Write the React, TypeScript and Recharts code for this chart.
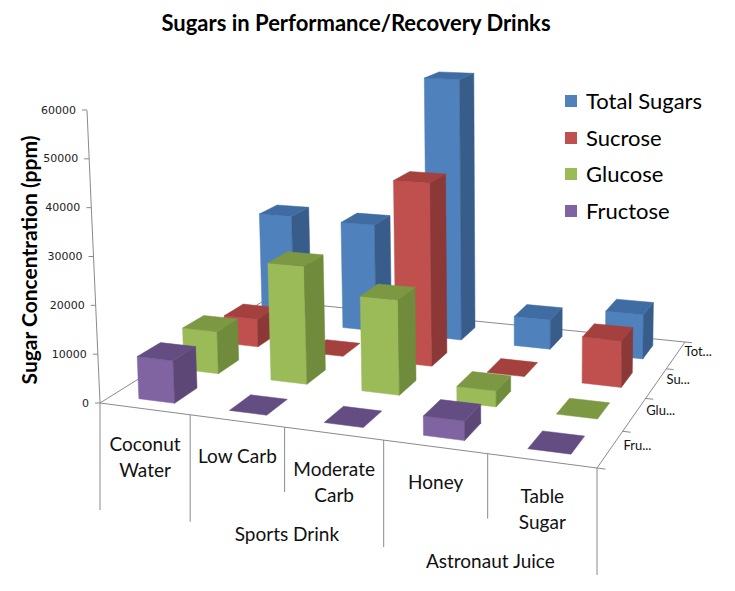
import React from 'react';
import { BarChart, Bar, XAxis, YAxis, Legend } from 'recharts';

// categories along the front edge, with the wrapped label lines and the outer group level
const categories = ['Coconut Water', 'Low Carb', 'Moderate Carb', 'Honey', 'Table Sugar'];
const categoryLines = [['Coconut', 'Water'], ['Low Carb'], ['Moderate', 'Carb'], ['Honey'], ['Table', 'Sugar']];
const groupLabels = ['', 'Sports Drink', 'Sports Drink', 'Astronaut Juice', 'Astronaut Juice'];

// ppm
const totalSugars = [25000, 24500, 59000, 6500, 9600];
const sucrose = [6200, 0, 39600, 0, 9600];
const glucose = [9000, 24800, 19600, 3200, 0];
const fructose = [8700, 0, 0, 3700, 0];

const yTicks = [0, 10000, 20000, 30000, 40000, 50000, 60000];
const depthLabels = ['Tot...', 'Su...', 'Glu...', 'Fru...'];

const series = [
  { key: 'total', name: 'Total Sugars', values: totalSugars, front: '#4F81BD', top: '#3F6CA2', side: '#385D8A' },
  { key: 'sucrose', name: 'Sucrose', values: sucrose, front: '#C0504D', top: '#A4413E', side: '#8C3836' },
  { key: 'glucose', name: 'Glucose', values: glucose, front: '#9BBB59', top: '#7C9843', side: '#6F8B3B' },
  { key: 'fructose', name: 'Fructose', values: fructose, front: '#8064A2', top: '#644D83', side: '#5C4776' },
];

const data = categories.map((name, i) => {
  const row: Record<string, string | number> = { name };
  series.forEach((s) => (row[s.key] = s.values[i]));
  return row;
});

// layout of the fake 3d floor
const WIDTH = 735;
const HEIGHT = 591;
const PLOT = { x: 100, y: 110, w: 497, h: 293 };
const FL: [number, number] = [100, 403];
const FR: [number, number] = [597, 468];
const BR: [number, number] = [685, 342];
const BL: [number, number] = [265, 300];
const VANISH: [number, number] = [520, 9870];
const HALF_W = 0.04;
const HALF_D = 0.0625;
const LINE = '#8a8a8a';
const FONT = 'Lato, "Open Sans", sans-serif';

function makeHomography(p0: number[], p1: number[], p2: number[], p3: number[]) {
  const [x0, y0] = p0, [x1, y1] = p1, [x2, y2] = p2, [x3, y3] = p3;
  const dx1 = x1 - x2, dx2 = x3 - x2, dx3 = x0 - x1 + x2 - x3;
  const dy1 = y1 - y2, dy2 = y3 - y2, dy3 = y0 - y1 + y2 - y3;
  const den = dx1 * dy2 - dx2 * dy1;
  const g = (dx3 * dy2 - dx2 * dy3) / den;
  const h = (dx1 * dy3 - dx3 * dy1) / den;
  const a = x1 - x0 + g * x1, b = x3 - x0 + h * x3;
  const d = y1 - y0 + g * y1, e = y3 - y0 + h * y3;
  return (u: number, v: number) => {
    const w = g * u + h * v + 1;
    return { x: (a * u + b * v + x0) / w, y: (d * u + e * v + y0) / w, w };
  };
}

const proj = makeHomography(FL, FR, BR, BL);

// raise a floor point by px (measured at the front-left corner scale)
function lift(p: { x: number; y: number; w: number }, px: number) {
  const dx = p.x - VANISH[0];
  const dy = p.y - VANISH[1];
  const len = Math.hypot(dx, dy);
  const k = px / p.w / len;
  return { x: p.x + dx * k, y: p.y + dy * k };
}

const pts = (list: { x: number; y: number }[]) => list.map((p) => `${p.x.toFixed(1)},${p.y.toFixed(1)}`).join(' ');

function Box3D(props: any) {
  const { x, width, height, depth, colors } = props;
  if (x == null || width == null) return null;
  const uc = (x + width / 2 - PLOT.x) / PLOT.w;
  const h = Math.max(0, height || 0);
  const u0 = uc - HALF_W, u1 = uc + HALF_W;
  const v0 = depth - HALF_D, v1 = depth + HALF_D;
  const f00 = proj(u0, v0), f10 = proj(u1, v0), f11 = proj(u1, v1), f01 = proj(u0, v1);
  const t00 = lift(f00, h), t10 = lift(f10, h), t11 = lift(f11, h), t01 = lift(f01, h);
  return (
    <g>
      {h > 0 && <polygon points={pts([f00, f10, t10, t00])} fill={colors.front} stroke={colors.front} strokeWidth={0.5} />}
      {h > 0 && <polygon points={pts([f10, f11, t11, t10])} fill={colors.side} stroke={colors.side} strokeWidth={0.5} />}
      <polygon points={pts([t00, t10, t11, t01])} fill={colors.top} stroke={colors.top} strokeWidth={0.5} />
    </g>
  );
}

function YTick(props: any) {
  const { y, payload } = props;
  const base = proj(0, 0);
  const p = lift(base, base.y - y);
  return (
    <g>
      <line x1={p.x - 5} y1={y} x2={p.x} y2={y} stroke={LINE} />
      <text x={p.x - 11} y={y} textAnchor="end" dominantBaseline="central" fontSize={11} fontFamily="'DejaVu Sans', sans-serif" fill="#222">
        {payload.value}
      </text>
    </g>
  );
}

function Frame() {
  const fl = proj(0, 0), fr = proj(1, 0), br = proj(1, 1), bl = proj(0, 1);
  const axisTop = lift(fl, PLOT.h);
  const bounds = categories.map((_, i) => i).concat(categories.length);
  return (
    <g>
      <line x1={bl.x} y1={bl.y} x2={br.x} y2={br.y} stroke={LINE} />
      <line x1={fl.x} y1={fl.y} x2={bl.x} y2={bl.y} stroke={LINE} />
      <line x1={fl.x} y1={fl.y} x2={fr.x} y2={fr.y} stroke={LINE} />
      <line x1={fr.x} y1={fr.y} x2={br.x} y2={br.y} stroke={LINE} />
      <line x1={fl.x} y1={fl.y} x2={axisTop.x} y2={axisTop.y} stroke={LINE} />
      {bounds.map((i) => {
        const p = proj(i / categories.length, 0);
        const outer = i === 0 || i === categories.length || groupLabels[i - 1] !== groupLabels[i];
        return <line key={`b${i}`} x1={p.x} y1={p.y} x2={p.x} y2={p.y + (outer ? 107 : 65)} stroke={LINE} />;
      })}
      {categoryLines.map((lines, i) => {
        const a = proj(i / categories.length, 0);
        const b = proj((i + 1) / categories.length, 0);
        const cx = (a.x + b.x) / 2;
        const cy = (a.y + b.y) / 2 + 34.5;
        return (
          <text key={`c${i}`} x={cx} y={cy} textAnchor="middle" fontSize={19} fontFamily={FONT} fill="#111">
            {lines.map((l, k) => (
              <tspan key={k} x={cx} y={cy + k * 26.5} dominantBaseline="central">
                {l}
              </tspan>
            ))}
          </text>
        );
      })}
      {groupLabels.map((g, i) => {
        if (!g || groupLabels[i - 1] === g) return null;
        let j = i;
        while (groupLabels[j + 1] === g) j++;
        const a = proj(i / categories.length, 0);
        const b = proj((j + 1) / categories.length, 0);
        return (
          <text key={`g${i}`} x={(a.x + b.x) / 2} y={(a.y + b.y) / 2 + 106} textAnchor="middle" dominantBaseline="central" fontSize={19} fontFamily={FONT} fill="#111">
            {g}
          </text>
        );
      })}
      {[0, 1, 2, 3, 4].map((j) => {
        const p = proj(1, j / 4);
        const q = proj(1.015, j / 4);
        return <line key={`d${j}`} x1={p.x} y1={p.y} x2={q.x} y2={q.y} stroke={LINE} />;
      })}
      {depthLabels.map((l, j) => {
        const v = 1 - (j + 0.5) / 4;
        const p = proj(1, v);
        return (
          <text key={`dl${j}`} x={p.x + 14 - 6 * v} y={p.y - 4} dominantBaseline="central" fontSize={13} fontFamily={FONT} fill="#111">
            {l}
          </text>
        );
      })}
      <text x={356} y={22} textAnchor="middle" dominantBaseline="central" fontSize={22} fontWeight="bold" fontFamily={FONT} fill="#000">
        Sugars in Performance/Recovery Drinks
      </text>
      <text x={28} y={260} transform="rotate(-90 28 260)" textAnchor="middle" dominantBaseline="central" fontSize={21} fontWeight="bold" fontFamily={FONT} fill="#000">
        Sugar Concentration (ppm)
      </text>
    </g>
  );
}

function LegendContent({ payload }: any) {
  const order = series.map((s) => s.name);
  const items = [...(payload || [])].sort((a: any, b: any) => order.indexOf(a.value) - order.indexOf(b.value));
  return (
    <div style={{ fontFamily: FONT, fontSize: 22, color: '#000', lineHeight: 1 }}>
      {items.map((it: any) => (
        <div key={it.value} style={{ display: 'flex', alignItems: 'center', height: 36.7 }}>
          <span style={{ display: 'inline-block', width: 12, height: 12, background: it.color, marginRight: 9 }} />
          <span>{it.value}</span>
        </div>
      ))}
    </div>
  );
}

export default function App() {
  return (
    <div style={{ position: 'absolute', left: 0, top: 0, width: WIDTH, height: HEIGHT, background: '#fff' }}>
      <BarChart
        width={WIDTH}
        height={HEIGHT}
        data={data}
        margin={{ top: PLOT.y, right: WIDTH - PLOT.x - PLOT.w, bottom: HEIGHT - PLOT.y - PLOT.h, left: PLOT.x - 60 }}
      >
        <Frame />
        {series.map((s) => (
          <XAxis key={s.key} xAxisId={s.key} dataKey="name" hide />
        ))}
        <YAxis
          width={60}
          domain={[0, 60000]}
          ticks={yTicks}
          axisLine={false}
          tickLine={false}
          tick={<YTick />}
        />
        <Legend
          layout="vertical"
          align="center"
          verticalAlign="middle"
          content={<LegendContent />}
          wrapperStyle={{ left: 565, top: 82.6, width: 165 }}
        />
        {series.map((s, j) => {
          const depth = 1 - (j + 0.5) / series.length;
          return (
            <Bar
              key={s.key}
              xAxisId={s.key}
              dataKey={s.key}
              name={s.name}
              fill={s.front}
              isAnimationActive={false}
              shape={(p: any) => <Box3D {...p} depth={depth} colors={s} />}
            />
          );
        })}
      </BarChart>
    </div>
  );
}
